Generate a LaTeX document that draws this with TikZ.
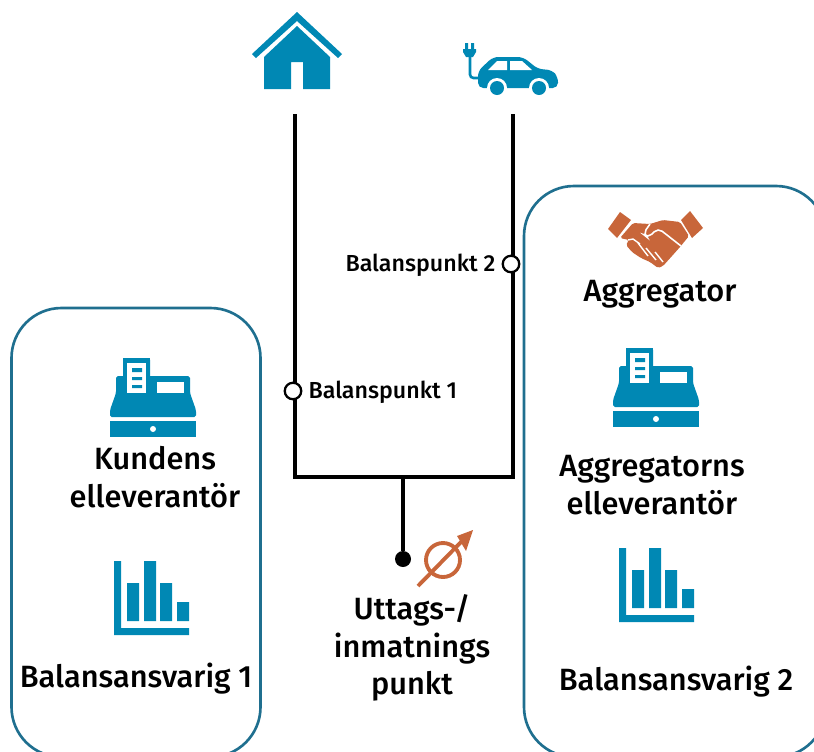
\documentclass[tikz,border=0pt]{standalone}
\usepackage{fontspec}
\usetikzlibrary{positioning}
\setmainfont{Fira Sans}[BoldFont=* Medium]
\definecolor{iconblue}{HTML}{0088B4}
\definecolor{iconorange}{HTML}{C8663A}
\definecolor{boxblue}{HTML}{1F6F8F}
\tikzset{
  wire/.style={line width=2.2pt,black},
  party/.style={draw=boxblue,line width=1.5pt,rounded corners=1cm},
  role/.style={align=center,font=\fontsize{17.5}{21.5}\selectfont\bfseries},
  tag/.style={font=\fontsize{13.2}{15}\selectfont\bfseries},
  point/.style={circle,draw=black,fill=white,line width=1.3pt,inner sep=0pt,minimum size=0.33cm},
  cashreg/.pic={
    \fill[iconblue,rounded corners=1pt] (-30,-40) rectangle (-3,-5);
    \fill[iconblue,rounded corners=1pt] (-37,-22) -- (37,-22) -- (37,-5) -- (43,12) -- (43,19) -- (-43,19) -- (-43,12) -- (-37,-5) -- cycle;
    \fill[iconblue] (-30,-40) rectangle (-3,-1);
    \fill[white] (-26,-35) rectangle (-7,-5);
    \fill[iconblue] (-21,-30) rectangle (-11,-26) (-21,-21) rectangle (-11,-18) (-21,-13) rectangle (-11,-10);
    \fill[white] (4,-16) rectangle (31,-5);
    \fill[iconblue] (-43,23) rectangle (43,39);
    \fill[white] (0,31) circle (3);
  },
  barchart/.pic={
    \fill[iconblue] (0,0) -- (7,0) -- (7,67) -- (75,67) -- (75,74) -- (0,74) -- cycle;
    \fill[iconblue] (13,22) rectangle (25,60) (30,0) rectangle (42,60) (46,22) rectangle (58,60) (63,41) rectangle (75,60);
  }
}
\begin{document}
\begin{tikzpicture}[x=0.02cm,y=-0.02cm]
  \useasboundingbox (0,0) rectangle (814,751);
  \begin{scope}
    \clip (0,0) rectangle (814,751);
    \draw[party] (11.5,308) rectangle (260.5,757);
    \draw[party] (524,186) rectangle (826,757);
  \end{scope}

  % house
  \fill[iconblue] (297,12) -- (342,54) -- (338,58) -- (297,21) -- (256,58) -- (252,54) -- cycle;
  \fill[iconblue] (297,26) -- (330,57) -- (330,89) -- (303,89) -- (303,62) -- (291,62) -- (291,89) -- (264,89) -- (264,57) -- cycle;

  % car
  \fill[iconblue,rounded corners=3pt] (478,88) -- (478,71) -- (493,57) -- (523,57) -- (538,69) -- (552,70) -- (558,77) -- (558,88) -- cycle;
  \fill[white] (488,70) -- (497,61) -- (507,61) -- (507,70) -- cycle;
  \fill[white] (510,61) -- (522,61) -- (532,70) -- (510,70) -- cycle;
  \fill[white] (497,88) circle (10) (539,88) circle (10);
  \fill[iconblue] (497,88) circle (7) (539,88) circle (7);
  \draw[iconblue,line width=1.5pt,rounded corners=2pt] (470,55) -- (470,78) -- (480,78);
  \fill[iconblue] (463,49) -- (476,49) -- (476,52) -- (473,57) -- (466,57) -- (463,52) -- cycle;
  \fill[iconblue] (465,43) rectangle (468,49) (471,43) rectangle (474,49);

  % handshake
  \fill[iconorange] (620,212) -- (631,220) -- (617,238) -- (608,229) -- cycle;
  \fill[iconorange] (690,211) -- (703,228) -- (692,238) -- (681,220) -- cycle;
  \fill[iconorange,rounded corners=1pt] (633,223) -- (650,224) -- (663,220) -- (680,222) -- (689,236) -- (680,247) -- (672,256) -- (663,266) -- (658,268) -- (650,262) -- (641,258) -- (632,252) -- (626,245) -- (629,240) -- (620,238) -- cycle;
  \draw[white,line width=0.9pt,rounded corners=3pt] (650,224) -- (643,234) -- (648,238) -- (658,228) -- (681,246);
  \draw[white,line width=0.8pt] (628,240) -- (633,239) -- (640,244) (638,243) -- (648,256) (646,248) -- (656,260) (655,252) -- (663,262);

  % metering symbol
  \draw[iconorange,line width=2.2pt] (443,560) circle (17);
  \draw[iconorange,line width=2.2pt] (418,586) -- (462,541);
  \fill[iconorange] (473,530) -- (466,551) -- (457,536) -- cycle;

  \pic (Register 1) at (153,398) {cashreg};
  \pic (Register 2) at (656,388) {cashreg};
  \pic (Chart 1) at (114,561) {barchart};
  \pic (Chart 2) at (619,548) {barchart};

  \node[role] (Supplier) at (155,477) {Kundens\\elleverantör};
  \node[role] (Responsible 1) at (136,679) {Balansansvarig 1};
  \node[role] (Aggregator) at (660,294) {Aggregator};
  \node[role] (Aggregator Supplier) at (652,485) {Aggregatorns\\elleverantör};
  \node[role] (Responsible 2) at (676,682) {Balansansvarig 2};
  \node[role] (Metering) at (412,648) {Uttags-/\\inmatnings\\punkt};

  \coordinate (Home) at (295,114);
  \coordinate (Car) at (513,114);
  \coordinate (Home Corner) at (295,477);
  \coordinate (Car Corner) at (513,477);
  \coordinate (Junction) at (403,477);
  \node[circle,fill=black,inner sep=0pt,minimum size=0.32cm] (Meter) at (403,559) {};

  \draw[wire] (Home) to (Home Corner) to (Car Corner) to (Car);
  \draw[wire] (Junction) to (Meter);

  \node[point] (Point 1) at (293,391) {};
  \node[point] (Point 2) at (511,264) {};
  \node[tag,right=0cm of Point 1,yshift=-0.02cm] (Label 1) {Balanspunkt 1};
  \node[tag,left=0cm of Point 2,yshift=-0.02cm] (Label 2) {Balanspunkt 2};
\end{tikzpicture}
\end{document}
